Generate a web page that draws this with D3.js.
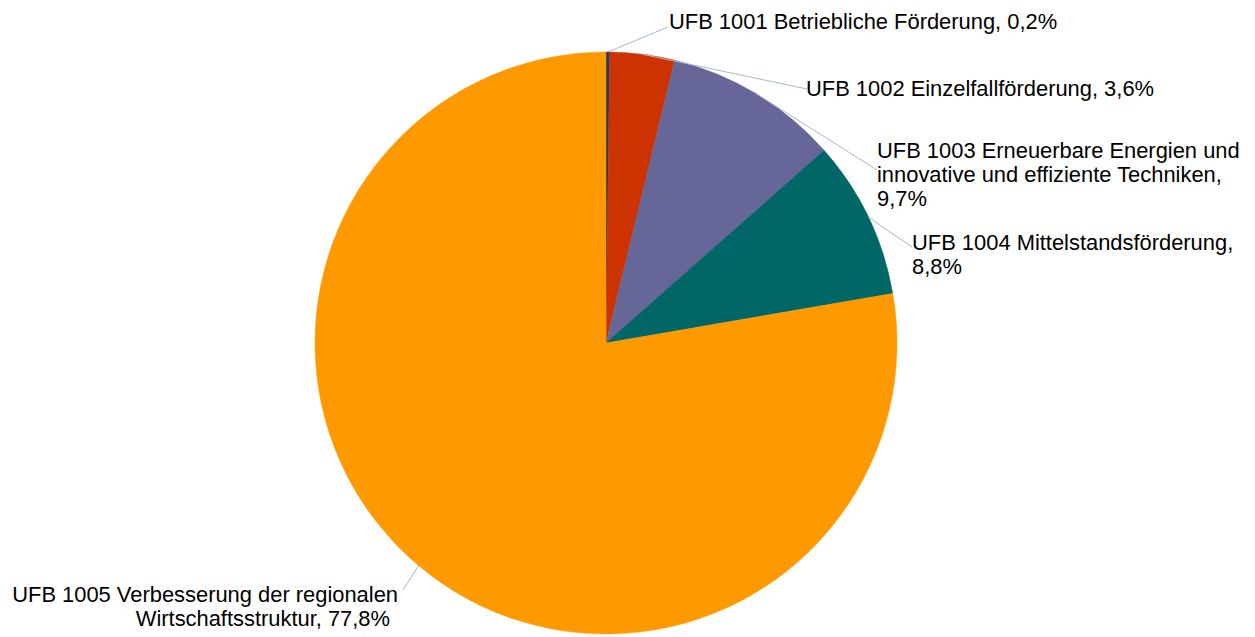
<!DOCTYPE html>
<html>
<head>
<meta charset="utf-8">
<script src="https://cdn.jsdelivr.net/npm/d3@7"></script>
<style>
  html, body { margin: 0; padding: 0; background: #fff; }
  svg { display: block; }
  text { font-family: "Liberation Sans", Arial, sans-serif; font-size: 21.9px; fill: #000; }
</style>
</head>
<body>
<div id="graph"></div>
<script>
const width = 1255
const height = 637

// data
const names = [
  'UFB 1001 Betriebliche Förderung',
  'UFB 1002 Einzelfallförderung',
  'UFB 1003 Erneuerbare Energien und innovative und effiziente Techniken',
  'UFB 1004 Mittelstandsförderung',
  'UFB 1005 Verbesserung der regionalen Wirtschaftsstruktur'
]
const values = [0.2, 3.6, 9.7, 8.8, 77.8]
const valueLabels = ['0,2%', '3,6%', '9,7%', '8,8%', '77,8%']
const colors = ['#1f3864', '#cc3300', '#666699', '#006666', '#ff9900']

// label text lines as they wrap in the picture
const labelLines = [
  ['UFB 1001 Betriebliche Förderung, 0,2%'],
  ['UFB 1002 Einzelfallförderung, 3,6%'],
  ['UFB 1003 Erneuerbare Energien und', 'innovative und effiziente Techniken,', '9,7%'],
  ['UFB 1004 Mittelstandsförderung,', '8,8%'],
  ['UFB 1005 Verbesserung der regionalen', 'Wirtschaftsstruktur, 77,8%']
]

// layout: label anchor (relative to pie centre), end of leader line, text anchor
const cx = 606, cy = 343, r = 291
const labelLayout = [
  {x: 63, y: -314, lx: 62, ly: -316, anchor: 'start'},
  {x: 200, y: -247, lx: 201, ly: -254, anchor: 'start'},
  {x: 271, y: -185, lx: 271, ly: -173, anchor: 'start'},
  {x: 306, y: -93, lx: 306, ly: -96, anchor: 'start'},
  {x: -208, y: 259, lx: -203, ly: 247, anchor: 'end'}
]

const svg = d3.select('#graph')
  .append('svg')
  .attr('width', width)
  .attr('height', height)

const g = svg.append('g')
  .attr('transform', `translate(${cx},${cy})`)

const pie = d3.pie().sort(null).value(d => d)
const arcs = pie(values)

const arc = d3.arc().innerRadius(0).outerRadius(r)

// slices
g.selectAll('path.slice')
  .data(arcs)
  .enter()
  .append('path')
  .attr('class', 'slice')
  .attr('d', arc)
  .attr('fill', (d, i) => colors[i])
  .attr('stroke', (d, i) => colors[i])
  .attr('stroke-width', 0.5)

// leader lines
g.selectAll('line.leader')
  .data(arcs)
  .enter()
  .append('line')
  .attr('class', 'leader')
  .attr('x1', d => r * Math.sin((d.startAngle + d.endAngle) / 2))
  .attr('y1', d => -r * Math.cos((d.startAngle + d.endAngle) / 2))
  .attr('x2', (d, i) => labelLayout[i].lx)
  .attr('y2', (d, i) => labelLayout[i].ly)
  .attr('stroke', '#a9b6cc')
  .attr('stroke-width', 1)

// labels
const labels = g.selectAll('text.label')
  .data(arcs)
  .enter()
  .append('text')
  .attr('class', 'label')
  .attr('x', (d, i) => labelLayout[i].x)
  .attr('y', (d, i) => labelLayout[i].y)
  .attr('text-anchor', (d, i) => labelLayout[i].anchor)

labels.each(function(d, i){
  const t = d3.select(this)
  labelLines[i].forEach((line, j) => {
    t.append('tspan')
      .attr('x', labelLayout[i].x - (labelLayout[i].anchor === 'end' && j > 0 ? 8 : 0))
      .attr('dy', j === 0 ? 0 : 24)
      .text(line)
  })
})
</script>
</body>
</html>
